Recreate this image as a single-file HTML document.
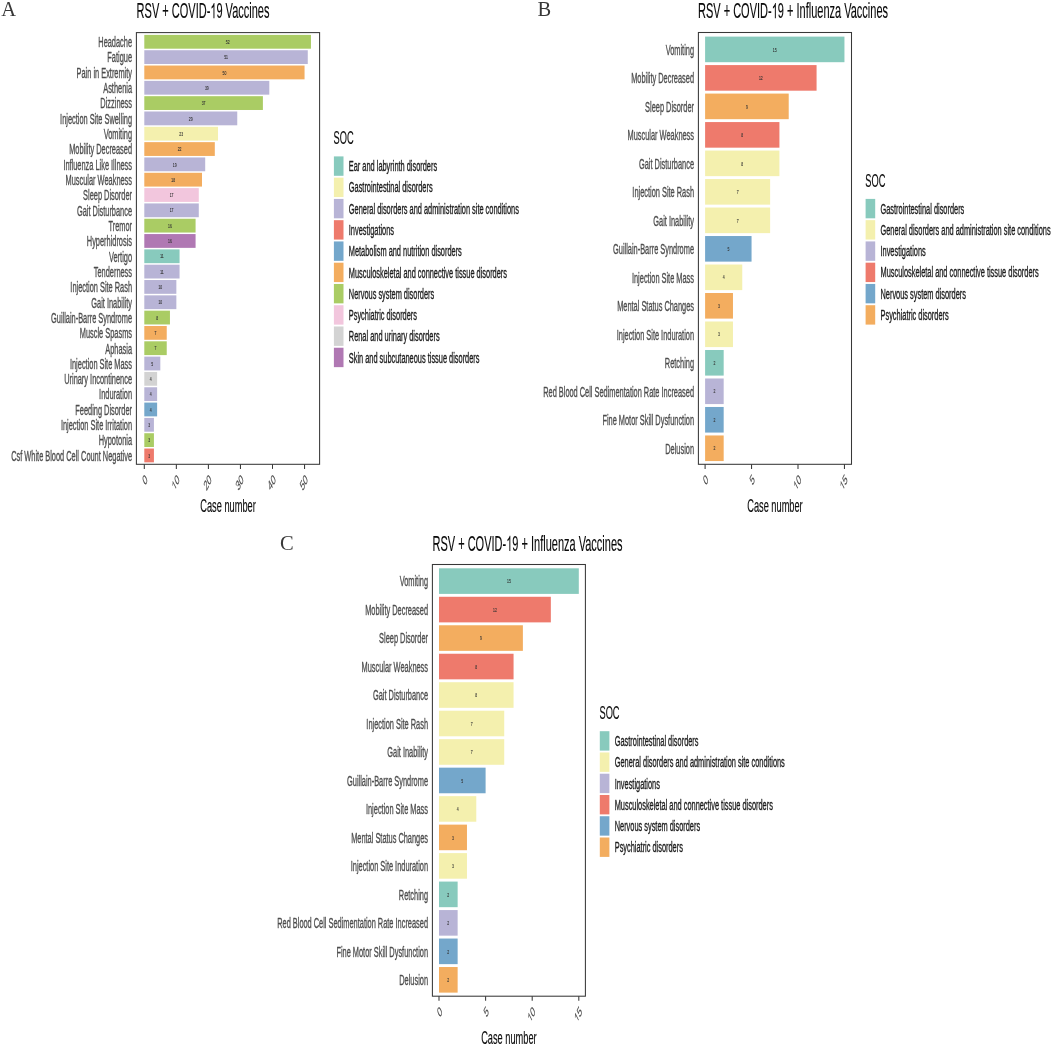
<!DOCTYPE html>
<html><head><meta charset="utf-8"><style>
html,body{margin:0;padding:0;background:#fff;}
svg{display:block;will-change:transform;}
.tx text{font-family:"Liberation Sans",sans-serif;stroke-linejoin:round;}
.a{fill:#4d4d4d;stroke:#4d4d4d;stroke-width:0.35px;}
.l{fill:#1a1a1a;stroke:#1a1a1a;stroke-width:0.35px;}
.t{fill:#0a0a0a;stroke:#0a0a0a;stroke-width:0.15px;}
.h{fill-opacity:0;stroke-opacity:0;}
g.a text,g.a path{fill:#4d4d4d;stroke:#4d4d4d;stroke-width:0.2px;}
g.t text,g.t path{fill:#0a0a0a;stroke:#0a0a0a;stroke-width:0.15px;}
.o{stroke-width:0 !important;}
.v{fill:#333333;stroke:#333333;stroke-width:0.48px;}
.sf text{font-family:"Liberation Serif",serif;font-size:20.5px;fill:#383838;}
</style></head><body>
<svg width="1052" height="1046" viewBox="0 0 1052 1046">

<rect width="1052" height="1046" fill="#fff"/>
<g class="sh">
<rect x="144.30" y="34.90" width="166.66" height="13.80" fill="#AACC64"/>
<rect x="144.30" y="50.22" width="163.46" height="13.80" fill="#B8B4D6"/>
<rect x="144.30" y="65.54" width="160.25" height="13.80" fill="#F3AD5F"/>
<rect x="144.30" y="80.86" width="125.00" height="13.80" fill="#B8B4D6"/>
<rect x="144.30" y="96.18" width="118.59" height="13.80" fill="#AACC64"/>
<rect x="144.30" y="111.50" width="92.95" height="13.80" fill="#B8B4D6"/>
<rect x="144.30" y="126.82" width="73.72" height="13.80" fill="#F4F0AE"/>
<rect x="144.30" y="142.14" width="70.51" height="13.80" fill="#F3AD5F"/>
<rect x="144.30" y="157.46" width="60.90" height="13.80" fill="#B8B4D6"/>
<rect x="144.30" y="172.78" width="57.69" height="13.80" fill="#F3AD5F"/>
<rect x="144.30" y="188.10" width="54.48" height="13.80" fill="#F2C6DD"/>
<rect x="144.30" y="203.42" width="54.48" height="13.80" fill="#B8B4D6"/>
<rect x="144.30" y="218.74" width="51.28" height="13.80" fill="#AACC64"/>
<rect x="144.30" y="234.06" width="51.28" height="13.80" fill="#B078B3"/>
<rect x="144.30" y="249.38" width="35.26" height="13.80" fill="#88CABD"/>
<rect x="144.30" y="264.70" width="35.26" height="13.80" fill="#B8B4D6"/>
<rect x="144.30" y="280.02" width="32.05" height="13.80" fill="#B8B4D6"/>
<rect x="144.30" y="295.34" width="32.05" height="13.80" fill="#B8B4D6"/>
<rect x="144.30" y="310.66" width="25.64" height="13.80" fill="#AACC64"/>
<rect x="144.30" y="325.98" width="22.44" height="13.80" fill="#F3AD5F"/>
<rect x="144.30" y="341.30" width="22.44" height="13.80" fill="#AACC64"/>
<rect x="144.30" y="356.62" width="16.02" height="13.80" fill="#B8B4D6"/>
<rect x="144.30" y="371.94" width="12.82" height="13.80" fill="#D3D3D3"/>
<rect x="144.30" y="387.26" width="12.82" height="13.80" fill="#B8B4D6"/>
<rect x="144.30" y="402.58" width="12.82" height="13.80" fill="#74A7CB"/>
<rect x="144.30" y="417.90" width="9.62" height="13.80" fill="#B8B4D6"/>
<rect x="144.30" y="433.22" width="9.62" height="13.80" fill="#AACC64"/>
<rect x="144.30" y="448.54" width="9.62" height="13.80" fill="#EE7A6C"/>
<rect x="136.40" y="32.60" width="183.20" height="431.70" fill="none" stroke="#383838" stroke-width="1.05"/>
<line x1="144.30" y1="464.30" x2="144.30" y2="468.90" stroke="#383838" stroke-width="1.05"/>
<line x1="176.35" y1="464.30" x2="176.35" y2="468.90" stroke="#383838" stroke-width="1.05"/>
<line x1="208.40" y1="464.30" x2="208.40" y2="468.90" stroke="#383838" stroke-width="1.05"/>
<line x1="240.45" y1="464.30" x2="240.45" y2="468.90" stroke="#383838" stroke-width="1.05"/>
<line x1="272.50" y1="464.30" x2="272.50" y2="468.90" stroke="#383838" stroke-width="1.05"/>
<line x1="304.55" y1="464.30" x2="304.55" y2="468.90" stroke="#383838" stroke-width="1.05"/>
<rect x="333.90" y="156.40" width="9.6" height="19.4" fill="#88CABD"/>
<rect x="333.90" y="177.66" width="9.6" height="19.4" fill="#F4F0AE"/>
<rect x="333.90" y="198.92" width="9.6" height="19.4" fill="#B8B4D6"/>
<rect x="333.90" y="220.18" width="9.6" height="19.4" fill="#EE7A6C"/>
<rect x="333.90" y="241.44" width="9.6" height="19.4" fill="#74A7CB"/>
<rect x="333.90" y="262.70" width="9.6" height="19.4" fill="#F3AD5F"/>
<rect x="333.90" y="283.96" width="9.6" height="19.4" fill="#AACC64"/>
<rect x="333.90" y="305.22" width="9.6" height="19.4" fill="#F2C6DD"/>
<rect x="333.90" y="326.48" width="9.6" height="19.4" fill="#D3D3D3"/>
<rect x="333.90" y="347.74" width="9.6" height="19.4" fill="#B078B3"/>
<rect x="705.10" y="36.60" width="139.35" height="25.60" fill="#88CABD"/>
<rect x="705.10" y="65.09" width="111.48" height="25.60" fill="#EE7A6C"/>
<rect x="705.10" y="93.58" width="83.61" height="25.60" fill="#F3AD5F"/>
<rect x="705.10" y="122.07" width="74.32" height="25.60" fill="#EE7A6C"/>
<rect x="705.10" y="150.56" width="74.32" height="25.60" fill="#F4F0AE"/>
<rect x="705.10" y="179.05" width="65.03" height="25.60" fill="#F4F0AE"/>
<rect x="705.10" y="207.54" width="65.03" height="25.60" fill="#F4F0AE"/>
<rect x="705.10" y="236.03" width="46.45" height="25.60" fill="#74A7CB"/>
<rect x="705.10" y="264.52" width="37.16" height="25.60" fill="#F4F0AE"/>
<rect x="705.10" y="293.01" width="27.87" height="25.60" fill="#F3AD5F"/>
<rect x="705.10" y="321.50" width="27.87" height="25.60" fill="#F4F0AE"/>
<rect x="705.10" y="349.99" width="18.58" height="25.60" fill="#88CABD"/>
<rect x="705.10" y="378.48" width="18.58" height="25.60" fill="#B8B4D6"/>
<rect x="705.10" y="406.97" width="18.58" height="25.60" fill="#74A7CB"/>
<rect x="705.10" y="435.46" width="18.58" height="25.60" fill="#F3AD5F"/>
<rect x="698.40" y="32.50" width="153.10" height="431.80" fill="none" stroke="#383838" stroke-width="1.05"/>
<line x1="705.10" y1="464.30" x2="705.10" y2="468.90" stroke="#383838" stroke-width="1.05"/>
<line x1="751.55" y1="464.30" x2="751.55" y2="468.90" stroke="#383838" stroke-width="1.05"/>
<line x1="798.00" y1="464.30" x2="798.00" y2="468.90" stroke="#383838" stroke-width="1.05"/>
<line x1="844.45" y1="464.30" x2="844.45" y2="468.90" stroke="#383838" stroke-width="1.05"/>
<rect x="865.60" y="198.90" width="9.6" height="19.4" fill="#88CABD"/>
<rect x="865.60" y="220.16" width="9.6" height="19.4" fill="#F4F0AE"/>
<rect x="865.60" y="241.42" width="9.6" height="19.4" fill="#B8B4D6"/>
<rect x="865.60" y="262.68" width="9.6" height="19.4" fill="#EE7A6C"/>
<rect x="865.60" y="283.94" width="9.6" height="19.4" fill="#74A7CB"/>
<rect x="865.60" y="305.20" width="9.6" height="19.4" fill="#F3AD5F"/>
<rect x="439.00" y="568.30" width="139.80" height="25.60" fill="#88CABD"/>
<rect x="439.00" y="596.78" width="111.84" height="25.60" fill="#EE7A6C"/>
<rect x="439.00" y="625.26" width="83.88" height="25.60" fill="#F3AD5F"/>
<rect x="439.00" y="653.74" width="74.56" height="25.60" fill="#EE7A6C"/>
<rect x="439.00" y="682.22" width="74.56" height="25.60" fill="#F4F0AE"/>
<rect x="439.00" y="710.70" width="65.24" height="25.60" fill="#F4F0AE"/>
<rect x="439.00" y="739.18" width="65.24" height="25.60" fill="#F4F0AE"/>
<rect x="439.00" y="767.66" width="46.60" height="25.60" fill="#74A7CB"/>
<rect x="439.00" y="796.14" width="37.28" height="25.60" fill="#F4F0AE"/>
<rect x="439.00" y="824.62" width="27.96" height="25.60" fill="#F3AD5F"/>
<rect x="439.00" y="853.10" width="27.96" height="25.60" fill="#F4F0AE"/>
<rect x="439.00" y="881.58" width="18.64" height="25.60" fill="#88CABD"/>
<rect x="439.00" y="910.06" width="18.64" height="25.60" fill="#B8B4D6"/>
<rect x="439.00" y="938.54" width="18.64" height="25.60" fill="#74A7CB"/>
<rect x="439.00" y="967.02" width="18.64" height="25.60" fill="#F3AD5F"/>
<rect x="432.40" y="564.50" width="153.00" height="431.70" fill="none" stroke="#383838" stroke-width="1.05"/>
<line x1="439.00" y1="996.20" x2="439.00" y2="1000.80" stroke="#383838" stroke-width="1.05"/>
<line x1="485.60" y1="996.20" x2="485.60" y2="1000.80" stroke="#383838" stroke-width="1.05"/>
<line x1="532.20" y1="996.20" x2="532.20" y2="1000.80" stroke="#383838" stroke-width="1.05"/>
<line x1="578.80" y1="996.20" x2="578.80" y2="1000.80" stroke="#383838" stroke-width="1.05"/>
<rect x="599.80" y="731.20" width="9.6" height="19.4" fill="#88CABD"/>
<rect x="599.80" y="752.46" width="9.6" height="19.4" fill="#F4F0AE"/>
<rect x="599.80" y="773.72" width="9.6" height="19.4" fill="#B8B4D6"/>
<rect x="599.80" y="794.98" width="9.6" height="19.4" fill="#EE7A6C"/>
<rect x="599.80" y="816.24" width="9.6" height="19.4" fill="#74A7CB"/>
<rect x="599.80" y="837.50" width="9.6" height="19.4" fill="#F3AD5F"/>
</g>
<g class="tx">
<text class="v" transform="translate(227.63,43.97) scale(0.1375,0.2500)" font-size="24.80" text-anchor="middle">52</text>
<text class="a" transform="translate(132.00,47.13) scale(0.5000,1.0000)" font-size="14.80" text-anchor="end">Headache</text>
<text class="v" transform="translate(226.03,59.29) scale(0.1375,0.2500)" font-size="24.80" text-anchor="middle">51</text>
<text class="a" transform="translate(132.00,62.45) scale(0.5000,1.0000)" font-size="14.80" text-anchor="end">Fatigue</text>
<text class="v" transform="translate(224.43,74.61) scale(0.1375,0.2500)" font-size="24.80" text-anchor="middle">50</text>
<text class="a" transform="translate(132.00,77.77) scale(0.5000,1.0000)" font-size="14.80" text-anchor="end">Pain in Extremity</text>
<text class="v" transform="translate(206.80,89.93) scale(0.1375,0.2500)" font-size="24.80" text-anchor="middle">39</text>
<text class="a" transform="translate(132.00,93.09) scale(0.5000,1.0000)" font-size="14.80" text-anchor="end">Asthenia</text>
<text class="v" transform="translate(203.59,105.25) scale(0.1375,0.2500)" font-size="24.80" text-anchor="middle">37</text>
<text class="a" transform="translate(132.00,108.41) scale(0.5000,1.0000)" font-size="14.80" text-anchor="end">Dizziness</text>
<text class="v" transform="translate(190.77,120.57) scale(0.1375,0.2500)" font-size="24.80" text-anchor="middle">29</text>
<text class="a" transform="translate(132.00,123.73) scale(0.5000,1.0000)" font-size="14.80" text-anchor="end">Injection Site Swelling</text>
<text class="v" transform="translate(181.16,135.89) scale(0.1375,0.2500)" font-size="24.80" text-anchor="middle">23</text>
<text class="a" transform="translate(132.00,139.05) scale(0.5000,1.0000)" font-size="14.80" text-anchor="end">Vomiting</text>
<text class="v" transform="translate(179.56,151.21) scale(0.1375,0.2500)" font-size="24.80" text-anchor="middle">22</text>
<text class="a" transform="translate(132.00,154.37) scale(0.5000,1.0000)" font-size="14.80" text-anchor="end">Mobility Decreased</text>
<text class="v" transform="translate(174.75,166.53) scale(0.1375,0.2500)" font-size="24.80" text-anchor="middle">19</text>
<text class="a" transform="translate(132.00,169.69) scale(0.5000,1.0000)" font-size="14.80" text-anchor="end">Influenza Like Illness</text>
<text class="v" transform="translate(173.15,181.85) scale(0.1375,0.2500)" font-size="24.80" text-anchor="middle">18</text>
<text class="a" transform="translate(132.00,185.01) scale(0.5000,1.0000)" font-size="14.80" text-anchor="end">Muscular Weakness</text>
<text class="v" transform="translate(171.54,197.17) scale(0.1375,0.2500)" font-size="24.80" text-anchor="middle">17</text>
<text class="a" transform="translate(132.00,200.33) scale(0.5000,1.0000)" font-size="14.80" text-anchor="end">Sleep Disorder</text>
<text class="v" transform="translate(171.54,212.49) scale(0.1375,0.2500)" font-size="24.80" text-anchor="middle">17</text>
<text class="a" transform="translate(132.00,215.65) scale(0.5000,1.0000)" font-size="14.80" text-anchor="end">Gait Disturbance</text>
<text class="v" transform="translate(169.94,227.81) scale(0.1375,0.2500)" font-size="24.80" text-anchor="middle">16</text>
<text class="a" transform="translate(132.00,230.97) scale(0.5000,1.0000)" font-size="14.80" text-anchor="end">Tremor</text>
<text class="v" transform="translate(169.94,243.13) scale(0.1375,0.2500)" font-size="24.80" text-anchor="middle">16</text>
<text class="a" transform="translate(132.00,246.29) scale(0.5000,1.0000)" font-size="14.80" text-anchor="end">Hyperhidrosis</text>
<text class="v" transform="translate(161.93,258.45) scale(0.1375,0.2500)" font-size="24.80" text-anchor="middle">11</text>
<text class="a" transform="translate(132.00,261.61) scale(0.5000,1.0000)" font-size="14.80" text-anchor="end">Vertigo</text>
<text class="v" transform="translate(161.93,273.77) scale(0.1375,0.2500)" font-size="24.80" text-anchor="middle">11</text>
<text class="a" transform="translate(132.00,276.93) scale(0.5000,1.0000)" font-size="14.80" text-anchor="end">Tenderness</text>
<text class="v" transform="translate(160.33,289.09) scale(0.1375,0.2500)" font-size="24.80" text-anchor="middle">10</text>
<text class="a" transform="translate(132.00,292.25) scale(0.5000,1.0000)" font-size="14.80" text-anchor="end">Injection Site Rash</text>
<text class="v" transform="translate(160.33,304.41) scale(0.1375,0.2500)" font-size="24.80" text-anchor="middle">10</text>
<text class="a" transform="translate(132.00,307.57) scale(0.5000,1.0000)" font-size="14.80" text-anchor="end">Gait Inability</text>
<text class="v" transform="translate(157.12,319.73) scale(0.1375,0.2500)" font-size="24.80" text-anchor="middle">8</text>
<text class="a" transform="translate(132.00,322.89) scale(0.5000,1.0000)" font-size="14.80" text-anchor="end">Guillain-Barre Syndrome</text>
<text class="v" transform="translate(155.52,335.05) scale(0.1375,0.2500)" font-size="24.80" text-anchor="middle">7</text>
<text class="a" transform="translate(132.00,338.21) scale(0.5000,1.0000)" font-size="14.80" text-anchor="end">Muscle Spasms</text>
<text class="v" transform="translate(155.52,350.37) scale(0.1375,0.2500)" font-size="24.80" text-anchor="middle">7</text>
<text class="a" transform="translate(132.00,353.53) scale(0.5000,1.0000)" font-size="14.80" text-anchor="end">Aphasia</text>
<text class="v" transform="translate(152.31,365.69) scale(0.1375,0.2500)" font-size="24.80" text-anchor="middle">5</text>
<text class="a" transform="translate(132.00,368.85) scale(0.5000,1.0000)" font-size="14.80" text-anchor="end">Injection Site Mass</text>
<text class="v" transform="translate(150.71,381.01) scale(0.1375,0.2500)" font-size="24.80" text-anchor="middle">4</text>
<text class="a" transform="translate(132.00,384.17) scale(0.5000,1.0000)" font-size="14.80" text-anchor="end">Urinary Incontinence</text>
<text class="v" transform="translate(150.71,396.33) scale(0.1375,0.2500)" font-size="24.80" text-anchor="middle">4</text>
<text class="a" transform="translate(132.00,399.49) scale(0.5000,1.0000)" font-size="14.80" text-anchor="end">Induration</text>
<text class="v" transform="translate(150.71,411.65) scale(0.1375,0.2500)" font-size="24.80" text-anchor="middle">4</text>
<text class="a" transform="translate(132.00,414.81) scale(0.5000,1.0000)" font-size="14.80" text-anchor="end">Feeding Disorder</text>
<text class="v" transform="translate(149.11,426.97) scale(0.1375,0.2500)" font-size="24.80" text-anchor="middle">3</text>
<text class="a" transform="translate(132.00,430.13) scale(0.5000,1.0000)" font-size="14.80" text-anchor="end">Injection Site Irritation</text>
<text class="v" transform="translate(149.11,442.29) scale(0.1375,0.2500)" font-size="24.80" text-anchor="middle">3</text>
<text class="a" transform="translate(132.00,445.45) scale(0.5000,1.0000)" font-size="14.80" text-anchor="end">Hypotonia</text>
<text class="v" transform="translate(149.11,457.61) scale(0.1375,0.2500)" font-size="24.80" text-anchor="middle">3</text>
<text class="a" transform="translate(132.00,460.77) scale(0.5000,1.0000)" font-size="14.80" text-anchor="end">Csf White Blood Cell Count Negative</text>
<g class="a" transform="translate(148.00,480.40) scale(0.5,1) rotate(-45)"><text font-size="14.2" text-anchor="end">0</text></g>
<g class="a" transform="translate(180.05,480.40) scale(0.5,1) rotate(-45)"><text font-size="14.2" text-anchor="end"><tspan class="h">1</tspan>0</text><path class="o" d="M763 0L583 0L583 1098Q518 1038 412 979Q307 920 223 890L223 1057Q374 1125 487 1221Q600 1318 647 1409L763 1409Z" transform="translate(-15.795,0) scale(0.00693,-0.00693)"/></g>
<g class="a" transform="translate(212.10,480.40) scale(0.5,1) rotate(-45)"><text font-size="14.2" text-anchor="end">20</text></g>
<g class="a" transform="translate(244.15,480.40) scale(0.5,1) rotate(-45)"><text font-size="14.2" text-anchor="end">30</text></g>
<g class="a" transform="translate(276.20,480.40) scale(0.5,1) rotate(-45)"><text font-size="14.2" text-anchor="end">40</text></g>
<g class="a" transform="translate(308.25,480.40) scale(0.5,1) rotate(-45)"><text font-size="14.2" text-anchor="end">50</text></g>
<text class="l" transform="translate(348.80,171.21) scale(0.5000,1.0000)" font-size="14.80">Ear and labyrinth disorders</text>
<text class="l" transform="translate(348.80,192.47) scale(0.5000,1.0000)" font-size="14.80">Gastrointestinal disorders</text>
<text class="l" transform="translate(348.80,213.73) scale(0.5000,1.0000)" font-size="14.80">General disorders and administration site conditions</text>
<text class="l" transform="translate(348.80,234.99) scale(0.5000,1.0000)" font-size="14.80">Investigations</text>
<text class="l" transform="translate(348.80,256.25) scale(0.5000,1.0000)" font-size="14.80">Metabolism and nutrition disorders</text>
<text class="l" transform="translate(348.80,277.51) scale(0.5000,1.0000)" font-size="14.80">Musculoskeletal and connective tissue disorders</text>
<text class="l" transform="translate(348.80,298.77) scale(0.5000,1.0000)" font-size="14.80">Nervous system disorders</text>
<text class="l" transform="translate(348.80,320.03) scale(0.5000,1.0000)" font-size="14.80">Psychiatric disorders</text>
<text class="l" transform="translate(348.80,341.29) scale(0.5000,1.0000)" font-size="14.80">Renal and urinary disorders</text>
<text class="l" transform="translate(348.80,362.55) scale(0.5000,1.0000)" font-size="14.80">Skin and subcutaneous tissue disorders</text>
<text class="v" transform="translate(774.77,51.57) scale(0.1375,0.2500)" font-size="24.80" text-anchor="middle">15</text>
<text class="a" transform="translate(694.00,54.73) scale(0.5000,1.0000)" font-size="14.80" text-anchor="end">Vomiting</text>
<text class="v" transform="translate(760.84,80.06) scale(0.1375,0.2500)" font-size="24.80" text-anchor="middle">12</text>
<text class="a" transform="translate(694.00,83.22) scale(0.5000,1.0000)" font-size="14.80" text-anchor="end">Mobility Decreased</text>
<text class="v" transform="translate(746.90,108.55) scale(0.1375,0.2500)" font-size="24.80" text-anchor="middle">9</text>
<text class="a" transform="translate(694.00,111.71) scale(0.5000,1.0000)" font-size="14.80" text-anchor="end">Sleep Disorder</text>
<text class="v" transform="translate(742.26,137.04) scale(0.1375,0.2500)" font-size="24.80" text-anchor="middle">8</text>
<text class="a" transform="translate(694.00,140.20) scale(0.5000,1.0000)" font-size="14.80" text-anchor="end">Muscular Weakness</text>
<text class="v" transform="translate(742.26,165.53) scale(0.1375,0.2500)" font-size="24.80" text-anchor="middle">8</text>
<text class="a" transform="translate(694.00,168.69) scale(0.5000,1.0000)" font-size="14.80" text-anchor="end">Gait Disturbance</text>
<text class="v" transform="translate(737.62,194.02) scale(0.1375,0.2500)" font-size="24.80" text-anchor="middle">7</text>
<text class="a" transform="translate(694.00,197.18) scale(0.5000,1.0000)" font-size="14.80" text-anchor="end">Injection Site Rash</text>
<text class="v" transform="translate(737.62,222.51) scale(0.1375,0.2500)" font-size="24.80" text-anchor="middle">7</text>
<text class="a" transform="translate(694.00,225.67) scale(0.5000,1.0000)" font-size="14.80" text-anchor="end">Gait Inability</text>
<text class="v" transform="translate(728.33,251.00) scale(0.1375,0.2500)" font-size="24.80" text-anchor="middle">5</text>
<text class="a" transform="translate(694.00,254.16) scale(0.5000,1.0000)" font-size="14.80" text-anchor="end">Guillain-Barre Syndrome</text>
<text class="v" transform="translate(723.68,279.49) scale(0.1375,0.2500)" font-size="24.80" text-anchor="middle">4</text>
<text class="a" transform="translate(694.00,282.65) scale(0.5000,1.0000)" font-size="14.80" text-anchor="end">Injection Site Mass</text>
<text class="v" transform="translate(719.03,307.98) scale(0.1375,0.2500)" font-size="24.80" text-anchor="middle">3</text>
<text class="a" transform="translate(694.00,311.14) scale(0.5000,1.0000)" font-size="14.80" text-anchor="end">Mental Status Changes</text>
<text class="v" transform="translate(719.03,336.47) scale(0.1375,0.2500)" font-size="24.80" text-anchor="middle">3</text>
<text class="a" transform="translate(694.00,339.63) scale(0.5000,1.0000)" font-size="14.80" text-anchor="end">Injection Site Induration</text>
<text class="v" transform="translate(714.39,364.96) scale(0.1375,0.2500)" font-size="24.80" text-anchor="middle">2</text>
<text class="a" transform="translate(694.00,368.12) scale(0.5000,1.0000)" font-size="14.80" text-anchor="end">Retching</text>
<text class="v" transform="translate(714.39,393.45) scale(0.1375,0.2500)" font-size="24.80" text-anchor="middle">2</text>
<text class="a" transform="translate(694.00,396.61) scale(0.5000,1.0000)" font-size="14.80" text-anchor="end">Red Blood Cell Sedimentation Rate Increased</text>
<text class="v" transform="translate(714.39,421.94) scale(0.1375,0.2500)" font-size="24.80" text-anchor="middle">2</text>
<text class="a" transform="translate(694.00,425.10) scale(0.5000,1.0000)" font-size="14.80" text-anchor="end">Fine Motor Skill Dysfunction</text>
<text class="v" transform="translate(714.39,450.43) scale(0.1375,0.2500)" font-size="24.80" text-anchor="middle">2</text>
<text class="a" transform="translate(694.00,453.59) scale(0.5000,1.0000)" font-size="14.80" text-anchor="end">Delusion</text>
<g class="a" transform="translate(708.80,480.40) scale(0.5,1) rotate(-45)"><text font-size="14.2" text-anchor="end">0</text></g>
<g class="a" transform="translate(755.25,480.40) scale(0.5,1) rotate(-45)"><text font-size="14.2" text-anchor="end">5</text></g>
<g class="a" transform="translate(801.70,480.40) scale(0.5,1) rotate(-45)"><text font-size="14.2" text-anchor="end"><tspan class="h">1</tspan>0</text><path class="o" d="M763 0L583 0L583 1098Q518 1038 412 979Q307 920 223 890L223 1057Q374 1125 487 1221Q600 1318 647 1409L763 1409Z" transform="translate(-15.795,0) scale(0.00693,-0.00693)"/></g>
<g class="a" transform="translate(848.15,480.40) scale(0.5,1) rotate(-45)"><text font-size="14.2" text-anchor="end"><tspan class="h">1</tspan>5</text><path class="o" d="M763 0L583 0L583 1098Q518 1038 412 979Q307 920 223 890L223 1057Q374 1125 487 1221Q600 1318 647 1409L763 1409Z" transform="translate(-15.795,0) scale(0.00693,-0.00693)"/></g>
<text class="l" transform="translate(880.50,213.71) scale(0.5000,1.0000)" font-size="14.80">Gastrointestinal disorders</text>
<text class="l" transform="translate(880.50,234.97) scale(0.5000,1.0000)" font-size="14.80">General disorders and administration site conditions</text>
<text class="l" transform="translate(880.50,256.23) scale(0.5000,1.0000)" font-size="14.80">Investigations</text>
<text class="l" transform="translate(880.50,277.49) scale(0.5000,1.0000)" font-size="14.80">Musculoskeletal and connective tissue disorders</text>
<text class="l" transform="translate(880.50,298.75) scale(0.5000,1.0000)" font-size="14.80">Nervous system disorders</text>
<text class="l" transform="translate(880.50,320.01) scale(0.5000,1.0000)" font-size="14.80">Psychiatric disorders</text>
<text class="v" transform="translate(508.90,583.27) scale(0.1375,0.2500)" font-size="24.80" text-anchor="middle">15</text>
<text class="a" transform="translate(428.00,586.43) scale(0.5000,1.0000)" font-size="14.80" text-anchor="end">Vomiting</text>
<text class="v" transform="translate(494.92,611.75) scale(0.1375,0.2500)" font-size="24.80" text-anchor="middle">12</text>
<text class="a" transform="translate(428.00,614.91) scale(0.5000,1.0000)" font-size="14.80" text-anchor="end">Mobility Decreased</text>
<text class="v" transform="translate(480.94,640.23) scale(0.1375,0.2500)" font-size="24.80" text-anchor="middle">9</text>
<text class="a" transform="translate(428.00,643.39) scale(0.5000,1.0000)" font-size="14.80" text-anchor="end">Sleep Disorder</text>
<text class="v" transform="translate(476.28,668.71) scale(0.1375,0.2500)" font-size="24.80" text-anchor="middle">8</text>
<text class="a" transform="translate(428.00,671.87) scale(0.5000,1.0000)" font-size="14.80" text-anchor="end">Muscular Weakness</text>
<text class="v" transform="translate(476.28,697.19) scale(0.1375,0.2500)" font-size="24.80" text-anchor="middle">8</text>
<text class="a" transform="translate(428.00,700.35) scale(0.5000,1.0000)" font-size="14.80" text-anchor="end">Gait Disturbance</text>
<text class="v" transform="translate(471.62,725.67) scale(0.1375,0.2500)" font-size="24.80" text-anchor="middle">7</text>
<text class="a" transform="translate(428.00,728.83) scale(0.5000,1.0000)" font-size="14.80" text-anchor="end">Injection Site Rash</text>
<text class="v" transform="translate(471.62,754.15) scale(0.1375,0.2500)" font-size="24.80" text-anchor="middle">7</text>
<text class="a" transform="translate(428.00,757.31) scale(0.5000,1.0000)" font-size="14.80" text-anchor="end">Gait Inability</text>
<text class="v" transform="translate(462.30,782.63) scale(0.1375,0.2500)" font-size="24.80" text-anchor="middle">5</text>
<text class="a" transform="translate(428.00,785.79) scale(0.5000,1.0000)" font-size="14.80" text-anchor="end">Guillain-Barre Syndrome</text>
<text class="v" transform="translate(457.64,811.11) scale(0.1375,0.2500)" font-size="24.80" text-anchor="middle">4</text>
<text class="a" transform="translate(428.00,814.27) scale(0.5000,1.0000)" font-size="14.80" text-anchor="end">Injection Site Mass</text>
<text class="v" transform="translate(452.98,839.59) scale(0.1375,0.2500)" font-size="24.80" text-anchor="middle">3</text>
<text class="a" transform="translate(428.00,842.75) scale(0.5000,1.0000)" font-size="14.80" text-anchor="end">Mental Status Changes</text>
<text class="v" transform="translate(452.98,868.07) scale(0.1375,0.2500)" font-size="24.80" text-anchor="middle">3</text>
<text class="a" transform="translate(428.00,871.23) scale(0.5000,1.0000)" font-size="14.80" text-anchor="end">Injection Site Induration</text>
<text class="v" transform="translate(448.32,896.55) scale(0.1375,0.2500)" font-size="24.80" text-anchor="middle">2</text>
<text class="a" transform="translate(428.00,899.71) scale(0.5000,1.0000)" font-size="14.80" text-anchor="end">Retching</text>
<text class="v" transform="translate(448.32,925.03) scale(0.1375,0.2500)" font-size="24.80" text-anchor="middle">2</text>
<text class="a" transform="translate(428.00,928.19) scale(0.5000,1.0000)" font-size="14.80" text-anchor="end">Red Blood Cell Sedimentation Rate Increased</text>
<text class="v" transform="translate(448.32,953.51) scale(0.1375,0.2500)" font-size="24.80" text-anchor="middle">2</text>
<text class="a" transform="translate(428.00,956.67) scale(0.5000,1.0000)" font-size="14.80" text-anchor="end">Fine Motor Skill Dysfunction</text>
<text class="v" transform="translate(448.32,981.99) scale(0.1375,0.2500)" font-size="24.80" text-anchor="middle">2</text>
<text class="a" transform="translate(428.00,985.15) scale(0.5000,1.0000)" font-size="14.80" text-anchor="end">Delusion</text>
<g class="a" transform="translate(442.70,1012.30) scale(0.5,1) rotate(-45)"><text font-size="14.2" text-anchor="end">0</text></g>
<g class="a" transform="translate(489.30,1012.30) scale(0.5,1) rotate(-45)"><text font-size="14.2" text-anchor="end">5</text></g>
<g class="a" transform="translate(535.90,1012.30) scale(0.5,1) rotate(-45)"><text font-size="14.2" text-anchor="end"><tspan class="h">1</tspan>0</text><path class="o" d="M763 0L583 0L583 1098Q518 1038 412 979Q307 920 223 890L223 1057Q374 1125 487 1221Q600 1318 647 1409L763 1409Z" transform="translate(-15.795,0) scale(0.00693,-0.00693)"/></g>
<g class="a" transform="translate(582.50,1012.30) scale(0.5,1) rotate(-45)"><text font-size="14.2" text-anchor="end"><tspan class="h">1</tspan>5</text><path class="o" d="M763 0L583 0L583 1098Q518 1038 412 979Q307 920 223 890L223 1057Q374 1125 487 1221Q600 1318 647 1409L763 1409Z" transform="translate(-15.795,0) scale(0.00693,-0.00693)"/></g>
<text class="l" transform="translate(614.70,746.01) scale(0.5000,1.0000)" font-size="14.80">Gastrointestinal disorders</text>
<text class="l" transform="translate(614.70,767.27) scale(0.5000,1.0000)" font-size="14.80">General disorders and administration site conditions</text>
<text class="l" transform="translate(614.70,788.53) scale(0.5000,1.0000)" font-size="14.80">Investigations</text>
<text class="l" transform="translate(614.70,809.79) scale(0.5000,1.0000)" font-size="14.80">Musculoskeletal and connective tissue disorders</text>
<text class="l" transform="translate(614.70,831.05) scale(0.5000,1.0000)" font-size="14.80">Nervous system disorders</text>
<text class="l" transform="translate(614.70,852.31) scale(0.5000,1.0000)" font-size="14.80">Psychiatric disorders</text>
</g>
<g class="tx">
<text class="t" transform="translate(228.00,512.00) scale(0.5000,1.0000)" font-size="18.50" text-anchor="middle">Case number</text>
<g class="t" transform="translate(136.60,18.30) scale(0.496,1)"><text font-size="22.2">RSV + COVID-<tspan class="h">1</tspan>9 Vaccines</text><path class="o" d="M763 0L583 0L583 1098Q518 1038 412 979Q307 920 223 890L223 1057Q374 1125 487 1221Q600 1318 647 1409L763 1409Z" transform="translate(148.646,0) scale(0.01084,-0.01084)"/></g>
<text class="t" transform="translate(333.60,144.30) scale(0.5000,1.0000)" font-size="18.50">SOC</text>
<text class="t" transform="translate(774.95,512.00) scale(0.5000,1.0000)" font-size="18.50" text-anchor="middle">Case number</text>
<g class="t" transform="translate(698.00,18.30) scale(0.496,1)"><text font-size="22.2">RSV + COVID-<tspan class="h">1</tspan>9 + Influenza Vaccines</text><path class="o" d="M763 0L583 0L583 1098Q518 1038 412 979Q307 920 223 890L223 1057Q374 1125 487 1221Q600 1318 647 1409L763 1409Z" transform="translate(148.646,0) scale(0.01084,-0.01084)"/></g>
<text class="t" transform="translate(865.30,186.80) scale(0.5000,1.0000)" font-size="18.50">SOC</text>
<text class="t" transform="translate(508.90,1044.40) scale(0.5000,1.0000)" font-size="18.50" text-anchor="middle">Case number</text>
<g class="t" transform="translate(432.50,551.00) scale(0.496,1)"><text font-size="22.2">RSV + COVID-<tspan class="h">1</tspan>9 + Influenza Vaccines</text><path class="o" d="M763 0L583 0L583 1098Q518 1038 412 979Q307 920 223 890L223 1057Q374 1125 487 1221Q600 1318 647 1409L763 1409Z" transform="translate(148.646,0) scale(0.01084,-0.01084)"/></g>
<text class="t" transform="translate(599.50,719.10) scale(0.5000,1.0000)" font-size="18.50">SOC</text>
</g>
<g class="sf">
<text x="1.2" y="15.7">A</text>
<text x="537.6" y="15.7">B</text>
<text x="280.0" y="549.6">C</text>
</g>
</svg>
</body></html>
